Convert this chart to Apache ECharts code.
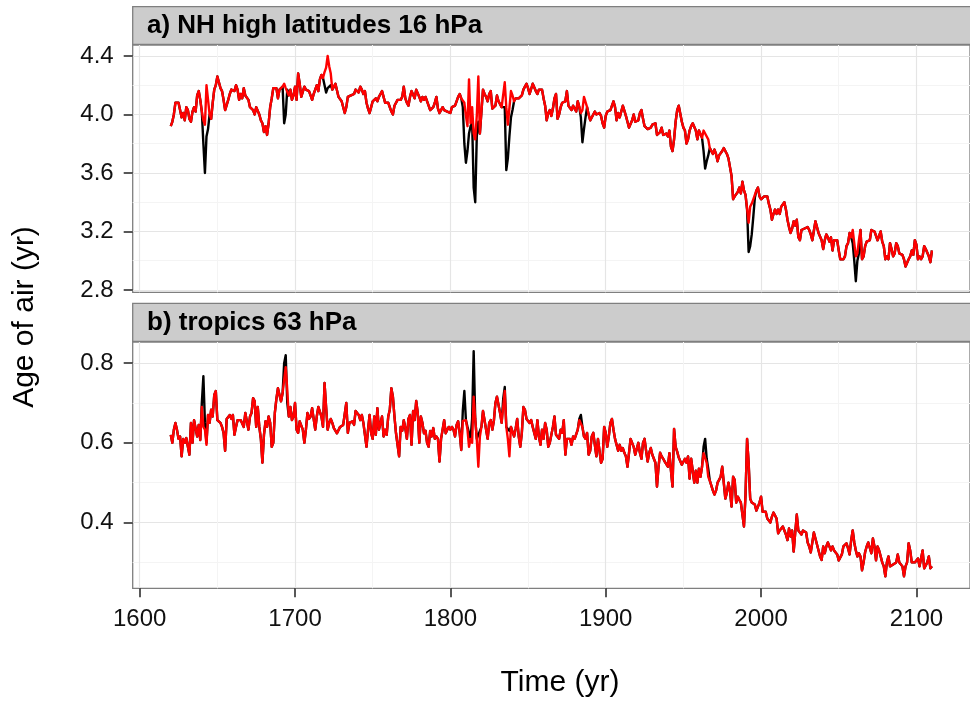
<!DOCTYPE html>
<html>
<head>
<meta charset="utf-8">
<script src="https://cdn.jsdelivr.net/npm/echarts@6/dist/echarts.min.js"></script>
<style>
  html, body { margin: 0; padding: 0; background: #fff; }
  #chart { width: 970px; height: 706px; }
</style>
</head>
<body>
<div id="chart"></div>
<script>
// ---- data: annual values 1620..2110 (one row = 10 years) ----
const START_YEAR = 1620;

const topBlack = [
  3.92,3.95,4.00,4.08,4.09,4.08,4.03,3.98,4.01,3.96,
  4.05,4.03,3.97,3.95,4.02,4.05,4.02,4.13,4.16,4.10,
  4.02,3.80,3.60,3.85,3.90,4.00,3.97,4.08,4.17,4.20,
  4.26,4.22,4.18,4.16,4.10,4.03,4.03,4.10,4.14,4.17,
  4.18,4.16,4.20,4.17,4.10,4.14,4.11,4.18,4.13,4.14,
  4.10,4.05,4.06,4.03,4.00,4.05,4.04,4.00,3.96,3.94,
  3.88,3.92,3.86,3.94,4.05,4.11,4.18,4.17,4.18,4.11,
  4.17,4.17,4.19,3.94,4.00,4.17,4.13,4.17,4.10,4.13,
  4.19,4.10,4.28,4.21,4.12,4.13,4.19,4.17,4.18,4.16,
  4.13,4.10,4.14,4.17,4.20,4.16,4.24,4.27,4.25,4.20,
  4.15,4.18,4.19,4.20,4.17,4.16,4.21,4.20,4.12,4.13,
  4.09,4.08,4.01,4.05,4.12,4.11,4.13,4.13,4.14,4.17,
  4.18,4.15,4.19,4.17,4.14,4.16,4.08,4.04,4.01,4.05,
  4.09,4.10,4.11,4.09,4.12,4.14,4.16,4.12,4.08,4.07,
  4.08,4.08,4.02,4.00,4.06,4.05,4.10,4.09,4.10,4.12,
  4.19,4.11,4.08,4.06,4.12,4.16,4.17,4.11,4.17,4.18,
  4.12,4.09,4.12,4.10,4.12,4.13,4.06,4.03,4.03,4.05,
  4.08,4.12,4.04,4.01,4.03,4.05,4.03,4.04,4.02,4.03,
  4.01,4.05,4.06,4.06,4.09,4.12,4.14,4.11,4.05,3.80,
  3.67,3.75,3.87,3.92,3.95,3.50,3.40,3.85,3.95,3.87,
  3.87,4.17,4.14,4.12,4.09,4.14,4.16,4.04,4.05,4.06,
  4.13,4.09,4.10,4.05,4.05,4.05,3.62,3.70,3.85,3.98,
  4.03,4.09,4.11,4.10,4.11,4.12,4.13,4.17,4.19,4.21,
  4.18,4.14,4.14,4.21,4.20,4.16,4.14,4.17,4.16,4.17,
  4.11,4.06,3.96,4.01,4.03,3.99,4.04,4.11,4.14,3.97,
  4.00,4.05,4.08,4.07,4.09,4.16,4.06,4.05,4.03,4.06,
  4.04,4.02,4.09,4.05,3.98,3.81,3.90,3.98,4.05,4.00,
  3.96,3.97,4.00,4.02,4.00,4.01,4.01,3.99,3.94,3.91,
  3.99,4.02,4.01,4.03,4.02,4.09,4.05,3.96,4.01,3.98,
  3.99,4.06,4.05,3.99,3.95,3.91,3.92,3.96,4.00,3.95,
  3.94,3.96,4.01,4.03,3.97,3.92,3.91,3.90,3.89,3.91,
  3.93,3.94,3.94,3.86,3.85,3.88,3.91,3.86,3.87,3.87,
  3.85,3.89,3.78,3.75,3.83,3.95,4.03,4.06,4.05,3.95,
  3.91,3.89,3.80,3.83,3.89,3.92,3.94,3.95,3.89,3.83,
  3.89,3.89,3.84,3.75,3.63,3.68,3.72,3.77,3.76,3.73,
  3.76,3.73,3.68,3.72,3.71,3.75,3.77,3.76,3.73,3.70,
  3.71,3.58,3.42,3.44,3.44,3.47,3.50,3.46,3.54,3.48,
  3.45,3.35,3.06,3.10,3.18,3.30,3.43,3.48,3.50,3.44,
  3.42,3.42,3.44,3.45,3.44,3.39,3.35,3.28,3.32,3.35,
  3.32,3.35,3.32,3.37,3.36,3.40,3.35,3.28,3.23,3.19,
  3.22,3.27,3.24,3.28,3.16,3.14,3.21,3.21,3.22,3.21,
  3.23,3.21,3.18,3.14,3.15,3.27,3.23,3.19,3.18,3.14,
  3.08,3.14,3.18,3.16,3.13,3.16,3.07,3.14,3.14,3.14,
  3.07,3.01,3.01,3.01,3.03,3.10,3.12,3.19,3.16,3.12,
  3.00,2.86,3.00,3.05,3.21,3.01,3.03,3.10,3.13,3.12,
  3.14,3.21,3.20,3.20,3.19,3.14,3.13,3.20,3.13,3.10,
  3.01,3.03,3.01,3.12,3.08,3.03,3.05,3.12,3.10,3.05,
  3.04,3.04,3.01,2.96,2.95,3.01,3.03,3.07,3.04,3.14,
  3.11,3.01,3.03,3.01,3.03,3.10,3.08,3.07,3.03,2.99,
  3.07
];

const topRed = [
  3.92,3.95,4.00,4.08,4.09,4.08,4.03,3.98,4.01,3.96,
  4.05,4.03,3.97,3.95,4.02,4.05,4.02,4.13,4.16,4.10,
  4.02,3.96,3.93,4.20,4.21,4.00,3.97,4.08,4.17,4.20,
  4.26,4.22,4.18,4.16,4.10,4.03,4.03,4.10,4.14,4.17,
  4.18,4.16,4.20,4.17,4.10,4.14,4.11,4.18,4.13,4.14,
  4.10,4.05,4.06,4.03,4.00,4.05,4.04,4.00,3.96,3.94,
  3.88,3.92,3.86,3.94,4.05,4.11,4.18,4.17,4.18,4.11,
  4.17,4.17,4.19,4.21,4.18,4.17,4.13,4.17,4.10,4.13,
  4.19,4.10,4.28,4.21,4.12,4.13,4.19,4.17,4.18,4.16,
  4.13,4.10,4.14,4.17,4.20,4.16,4.24,4.27,4.25,4.29,
  4.32,4.40,4.33,4.28,4.17,4.16,4.21,4.20,4.12,4.13,
  4.09,4.08,4.01,4.05,4.12,4.11,4.13,4.13,4.14,4.17,
  4.18,4.15,4.19,4.17,4.14,4.16,4.08,4.04,4.01,4.05,
  4.09,4.10,4.11,4.09,4.12,4.14,4.16,4.12,4.08,4.07,
  4.08,4.08,4.02,4.00,4.06,4.05,4.10,4.09,4.10,4.12,
  4.19,4.11,4.08,4.06,4.12,4.16,4.17,4.11,4.17,4.18,
  4.12,4.09,4.12,4.10,4.12,4.13,4.06,4.03,4.03,4.05,
  4.08,4.12,4.04,4.01,4.03,4.05,4.03,4.04,4.02,4.03,
  4.01,4.05,4.06,4.06,4.09,4.12,4.14,4.11,4.12,4.08,
  3.99,3.92,4.24,3.94,4.05,3.87,3.83,3.99,4.26,3.87,
  3.87,4.17,4.14,4.12,4.09,4.14,4.16,4.04,4.05,4.06,
  4.13,4.09,4.10,4.05,4.05,4.22,4.05,3.93,3.92,4.16,
  4.13,4.09,4.11,4.10,4.11,4.12,4.13,4.17,4.19,4.21,
  4.18,4.14,4.14,4.21,4.20,4.16,4.14,4.17,4.16,4.17,
  4.11,4.06,3.96,4.01,4.03,3.99,4.04,4.11,4.14,3.97,
  4.00,4.05,4.08,4.07,4.09,4.16,4.06,4.05,4.03,4.06,
  4.04,4.02,4.09,4.05,4.01,4.03,4.12,4.11,4.05,4.00,
  3.96,3.97,4.00,4.02,4.00,4.01,4.01,3.99,3.94,3.91,
  3.99,4.02,4.01,4.03,4.02,4.09,4.05,3.96,4.01,3.98,
  3.99,4.06,4.05,3.99,3.95,3.91,3.92,3.96,4.00,3.95,
  3.94,3.96,4.01,4.03,3.97,3.92,3.91,3.90,3.89,3.91,
  3.93,3.94,3.94,3.86,3.85,3.88,3.91,3.86,3.87,3.87,
  3.85,3.89,3.78,3.75,3.83,3.95,4.03,4.06,4.05,3.95,
  3.91,3.89,3.80,3.83,3.89,3.92,3.94,3.95,3.89,3.83,
  3.89,3.89,3.84,3.89,3.87,3.88,3.83,3.77,3.76,3.73,
  3.76,3.73,3.68,3.72,3.71,3.75,3.77,3.76,3.73,3.70,
  3.71,3.58,3.42,3.44,3.44,3.47,3.50,3.46,3.54,3.48,
  3.45,3.46,3.26,3.37,3.39,3.42,3.43,3.48,3.50,3.44,
  3.42,3.42,3.44,3.45,3.44,3.39,3.35,3.28,3.32,3.35,
  3.32,3.35,3.32,3.37,3.36,3.40,3.35,3.28,3.23,3.19,
  3.22,3.27,3.24,3.28,3.16,3.14,3.21,3.21,3.22,3.21,
  3.23,3.21,3.18,3.14,3.15,3.27,3.23,3.19,3.18,3.14,
  3.08,3.14,3.18,3.16,3.13,3.16,3.07,3.14,3.14,3.14,
  3.07,3.01,3.01,3.01,3.03,3.10,3.12,3.19,3.16,3.21,
  3.12,3.03,3.05,3.14,3.21,3.01,3.03,3.10,3.13,3.12,
  3.14,3.21,3.20,3.20,3.19,3.14,3.13,3.20,3.13,3.10,
  3.01,3.03,3.01,3.12,3.08,3.03,3.05,3.12,3.10,3.05,
  3.04,3.04,3.01,2.96,2.95,3.01,3.03,3.07,3.04,3.14,
  3.11,3.01,3.03,3.01,3.03,3.10,3.08,3.07,3.03,2.99,
  3.07
];

const botBlack = [
  0.62,0.60,0.633,0.65,0.633,0.61,0.616,0.566,0.61,0.60,
  0.612,0.61,0.57,0.65,0.60,0.657,0.66,0.616,0.645,0.607,
  0.70,0.767,0.65,0.60,0.67,0.65,0.683,0.666,0.72,0.73,
  0.657,0.66,0.65,0.64,0.625,0.58,0.66,0.657,0.67,0.66,
  0.67,0.62,0.64,0.657,0.66,0.657,0.655,0.64,0.675,0.675,
  0.633,0.666,0.675,0.712,0.705,0.64,0.69,0.64,0.61,0.55,
  0.62,0.654,0.64,0.666,0.65,0.59,0.60,0.675,0.71,0.737,
  0.72,0.704,0.725,0.80,0.82,0.70,0.666,0.69,0.657,0.666,
  0.70,0.633,0.625,0.654,0.65,0.633,0.60,0.633,0.675,0.66,
  0.666,0.687,0.69,0.633,0.666,0.69,0.69,0.666,0.64,0.75,
  0.69,0.633,0.65,0.66,0.65,0.637,0.633,0.624,0.62,0.64,
  0.64,0.645,0.64,0.70,0.625,0.65,0.645,0.654,0.645,0.68,
  0.683,0.67,0.657,0.67,0.65,0.62,0.59,0.633,0.67,0.624,
  0.61,0.666,0.62,0.687,0.633,0.633,0.666,0.616,0.633,0.62,
  0.666,0.683,0.737,0.716,0.666,0.624,0.62,0.566,0.64,0.63,
  0.657,0.637,0.61,0.66,0.67,0.595,0.68,0.657,0.705,0.675,
  0.60,0.666,0.65,0.624,0.63,0.60,0.59,0.63,0.616,0.637,
  0.61,0.616,0.61,0.553,0.61,0.633,0.657,0.624,0.633,0.64,
  0.633,0.64,0.633,0.616,0.645,0.654,0.625,0.582,0.68,0.73,
  0.657,0.64,0.64,0.61,0.66,0.83,0.66,0.61,0.62,0.616,
  0.64,0.68,0.675,0.633,0.61,0.65,0.657,0.633,0.655,0.70,
  0.716,0.695,0.675,0.65,0.71,0.74,0.64,0.64,0.63,0.64,
  0.64,0.616,0.635,0.66,0.616,0.59,0.625,0.69,0.683,0.66,
  0.657,0.65,0.657,0.64,0.625,0.61,0.657,0.616,0.595,0.633,
  0.61,0.65,0.633,0.59,0.60,0.62,0.64,0.666,0.62,0.624,
  0.61,0.633,0.625,0.657,0.57,0.61,0.605,0.61,0.595,0.616,
  0.61,0.61,0.633,0.66,0.67,0.64,0.616,0.61,0.625,0.57,
  0.58,0.616,0.625,0.595,0.566,0.61,0.58,0.55,0.56,0.64,
  0.625,0.59,0.616,0.65,0.66,0.633,0.61,0.61,0.58,0.595,
  0.58,0.587,0.575,0.566,0.54,0.575,0.61,0.61,0.59,0.57,
  0.575,0.60,0.575,0.56,0.60,0.61,0.58,0.553,0.575,0.587,
  0.57,0.575,0.55,0.49,0.54,0.575,0.566,0.56,0.553,0.555,
  0.54,0.574,0.53,0.49,0.635,0.59,0.578,0.563,0.56,0.545,
  0.545,0.56,0.55,0.566,0.51,0.56,0.53,0.50,0.53,0.50,
  0.535,0.515,0.54,0.59,0.61,0.56,0.535,0.505,0.50,0.48,
  0.47,0.48,0.50,0.507,0.515,0.54,0.54,0.46,0.475,0.50,
  0.48,0.44,0.515,0.507,0.45,0.465,0.457,0.45,0.42,0.39,
  0.47,0.61,0.55,0.46,0.45,0.447,0.445,0.43,0.43,0.45,
  0.465,0.427,0.425,0.427,0.41,0.407,0.40,0.415,0.425,0.427,
  0.41,0.373,0.38,0.385,0.39,0.39,0.37,0.356,0.385,0.365,
  0.38,0.327,0.375,0.42,0.38,0.38,0.37,0.38,0.383,0.375,
  0.35,0.34,0.325,0.32,0.375,0.377,0.345,0.33,0.315,0.306,
  0.34,0.323,0.34,0.35,0.345,0.33,0.34,0.33,0.325,0.32,
  0.305,0.302,0.32,0.34,0.34,0.348,0.335,0.32,0.355,0.38,
  0.35,0.33,0.315,0.323,0.315,0.28,0.30,0.326,0.34,0.35,
  0.35,0.323,0.36,0.34,0.305,0.34,0.33,0.315,0.30,0.29,
  0.265,0.30,0.315,0.29,0.295,0.295,0.295,0.30,0.32,0.30,
  0.305,0.29,0.265,0.29,0.30,0.348,0.33,0.30,0.30,0.30,
  0.30,0.31,0.29,0.31,0.33,0.285,0.29,0.30,0.315,0.285,
  0.29
];

const botRed = [
  0.62,0.60,0.633,0.65,0.633,0.61,0.616,0.566,0.61,0.60,
  0.612,0.61,0.57,0.65,0.60,0.657,0.66,0.616,0.645,0.607,
  0.69,0.64,0.633,0.595,0.67,0.65,0.683,0.666,0.72,0.73,
  0.657,0.66,0.65,0.64,0.625,0.58,0.66,0.657,0.67,0.66,
  0.67,0.62,0.64,0.657,0.66,0.657,0.655,0.64,0.675,0.675,
  0.633,0.666,0.675,0.712,0.705,0.64,0.69,0.64,0.61,0.55,
  0.62,0.654,0.64,0.666,0.65,0.59,0.60,0.675,0.71,0.737,
  0.72,0.704,0.725,0.758,0.79,0.733,0.666,0.69,0.657,0.666,
  0.70,0.633,0.625,0.654,0.65,0.633,0.60,0.633,0.675,0.66,
  0.666,0.687,0.69,0.633,0.666,0.69,0.69,0.666,0.64,0.75,
  0.69,0.633,0.65,0.66,0.65,0.637,0.633,0.624,0.62,0.64,
  0.64,0.645,0.64,0.70,0.625,0.65,0.645,0.654,0.645,0.68,
  0.683,0.67,0.657,0.67,0.65,0.62,0.59,0.633,0.67,0.624,
  0.61,0.666,0.62,0.687,0.633,0.633,0.666,0.616,0.633,0.62,
  0.666,0.683,0.737,0.716,0.666,0.624,0.62,0.566,0.64,0.63,
  0.657,0.637,0.61,0.66,0.67,0.595,0.68,0.657,0.705,0.675,
  0.60,0.666,0.65,0.624,0.63,0.60,0.59,0.63,0.616,0.637,
  0.61,0.616,0.61,0.553,0.61,0.633,0.657,0.624,0.633,0.64,
  0.633,0.64,0.633,0.616,0.645,0.654,0.625,0.582,0.655,0.65,
  0.657,0.633,0.59,0.61,0.60,0.716,0.66,0.61,0.54,0.616,
  0.64,0.68,0.675,0.633,0.61,0.65,0.657,0.633,0.655,0.70,
  0.716,0.695,0.675,0.65,0.69,0.73,0.64,0.61,0.566,0.64,
  0.64,0.616,0.635,0.66,0.616,0.59,0.625,0.69,0.683,0.66,
  0.657,0.65,0.657,0.64,0.625,0.61,0.657,0.616,0.595,0.633,
  0.61,0.65,0.633,0.59,0.60,0.62,0.64,0.666,0.62,0.624,
  0.61,0.633,0.625,0.657,0.57,0.61,0.605,0.61,0.595,0.616,
  0.61,0.61,0.633,0.657,0.657,0.64,0.616,0.61,0.625,0.57,
  0.58,0.616,0.625,0.595,0.566,0.61,0.58,0.55,0.56,0.64,
  0.625,0.59,0.616,0.65,0.66,0.633,0.61,0.61,0.58,0.595,
  0.58,0.587,0.575,0.566,0.54,0.575,0.61,0.61,0.59,0.57,
  0.575,0.60,0.575,0.56,0.60,0.61,0.58,0.553,0.575,0.587,
  0.57,0.575,0.55,0.49,0.54,0.575,0.566,0.56,0.553,0.555,
  0.54,0.574,0.53,0.49,0.635,0.59,0.578,0.563,0.56,0.545,
  0.545,0.56,0.55,0.566,0.51,0.56,0.53,0.50,0.53,0.50,
  0.535,0.515,0.54,0.574,0.575,0.55,0.515,0.505,0.50,0.48,
  0.47,0.48,0.50,0.507,0.515,0.54,0.54,0.46,0.475,0.50,
  0.48,0.44,0.515,0.507,0.45,0.465,0.457,0.45,0.42,0.39,
  0.47,0.61,0.55,0.46,0.45,0.447,0.445,0.43,0.43,0.45,
  0.465,0.427,0.425,0.427,0.41,0.407,0.40,0.415,0.425,0.427,
  0.41,0.373,0.38,0.385,0.39,0.39,0.37,0.356,0.385,0.365,
  0.38,0.327,0.375,0.42,0.38,0.38,0.37,0.38,0.383,0.375,
  0.35,0.34,0.325,0.32,0.375,0.377,0.345,0.33,0.315,0.306,
  0.34,0.323,0.34,0.35,0.345,0.33,0.34,0.33,0.325,0.32,
  0.305,0.302,0.32,0.34,0.34,0.348,0.335,0.32,0.355,0.38,
  0.35,0.33,0.315,0.323,0.315,0.28,0.30,0.326,0.34,0.35,
  0.35,0.323,0.36,0.34,0.305,0.34,0.33,0.315,0.30,0.29,
  0.265,0.30,0.315,0.29,0.295,0.295,0.295,0.30,0.32,0.30,
  0.305,0.29,0.265,0.29,0.30,0.348,0.33,0.30,0.30,0.30,
  0.30,0.31,0.29,0.31,0.33,0.285,0.29,0.30,0.315,0.285,
  0.29
];

const years = topRed.map((_, i) => START_YEAR + i);

const xMajorTicks = [1600, 1700, 1800, 1900, 2000, 2100];
const xMinorTicks = [1650, 1750, 1850, 1950, 2050];
const topMajorTicks = [2.8, 3.2, 3.6, 4.0, 4.4];
const topMinorTicks = [3.0, 3.4, 3.8, 4.2];
const botMajorTicks = [0.4, 0.6, 0.8];
const botMinorTicks = [0.3, 0.5, 0.7];

const panelTitles = ['a) NH high latitudes 16 hPa', 'b) tropics 63 hPa'];
const xTitle = 'Time (yr)';
const yTitle = 'Age of air (yr)';

// ---- layout ----
const FONT = "'Liberation Sans', Arial, Helvetica, sans-serif";
const GL = 132.7, GW = 848.3;
const X_MIN = 1595.5, X_MAX = 2134.5;
const panels = [
  { top: 45, height: 247.3, min: 2.784, max: 4.475, major: topMajorTicks, minor: topMinorTicks, strip: 6.7 },
  { top: 342, height: 246.3, min: 0.235, max: 0.853, major: botMajorTicks, minor: botMinorTicks, strip: 303.3 }
];
const MAJOR = '#E5E5E5', MINOR = '#F4F4F4';

const grids = [], xAxes = [], yAxes = [], series = [];
panels.forEach((p, gi) => {
  grids.push({ left: GL, top: p.top, width: GW, height: p.height, show: true,
    borderColor: '#7F7F7F', borderWidth: 1.3, backgroundColor: 'transparent' });
  xAxes.push({ gridIndex: gi, type: 'value', min: X_MIN, max: X_MAX, position: 'bottom',
    axisLine: { show: false }, axisTick: { show: false, customValues: xMinorTicks },
    axisLabel: { show: false, customValues: xMinorTicks },
    splitLine: { show: true, lineStyle: { color: MINOR, width: 1 } } });
  yAxes.push({ gridIndex: gi, type: 'value', min: p.min, max: p.max, position: 'right',
    axisLine: { show: false }, axisTick: { show: false, customValues: p.minor },
    axisLabel: { show: false, customValues: p.minor },
    splitLine: { show: true, lineStyle: { color: MINOR, width: 1 } } });
  const isBottom = gi === panels.length - 1;
  xAxes.push({ gridIndex: gi, type: 'value', min: X_MIN, max: X_MAX, position: 'bottom',
    axisLine: { show: false },
    axisTick: { show: isBottom, customValues: xMajorTicks, length: 9, lineStyle: { color: '#222', width: 1.5 } },
    axisLabel: { show: isBottom, customValues: xMajorTicks, fontSize: 24, color: '#111', fontFamily: FONT, margin: 19,
      formatter: v => String(Math.round(v)) },
    splitLine: { show: true, lineStyle: { color: MAJOR, width: 1.2 } } });
  yAxes.push({ gridIndex: gi, type: 'value', min: p.min, max: p.max, position: 'left',
    axisLine: { show: false },
    axisTick: { show: true, customValues: p.major, length: 9, lineStyle: { color: '#222', width: 1.5 } },
    axisLabel: { show: true, customValues: p.major, fontSize: 24, color: '#111', fontFamily: FONT, margin: 19,
      formatter: v => v.toFixed(1) },
    splitLine: { show: true, lineStyle: { color: MAJOR, width: 1.2 } } });
});

const pair = (arr) => years.map((y, i) => [y, arr[i]]);
const lineSeries = (name, gi, arr, color, z) => ({
  name, type: 'line', xAxisIndex: gi * 2 + 1, yAxisIndex: gi * 2 + 1,
  data: pair(arr), showSymbol: false, symbol: 'none', smooth: false,
  lineStyle: { color, width: 2.4, join: 'round' }, z, silent: true
});
series.push(lineSeries('black a', 0, topBlack, '#000000', 3));
series.push(lineSeries('red a', 0, topRed, '#FF0000', 4));
series.push(lineSeries('black b', 1, botBlack, '#000000', 3));
series.push(lineSeries('red b', 1, botRed, '#FF0000', 4));

const graphics = [];
panels.forEach((p, gi) => {
  graphics.push({ type: 'rect', shape: { x: GL, y: p.strip, width: GW + 10, height: p.top - p.strip - 0.6 },
    style: { fill: '#CCCCCC', stroke: '#7F7F7F', lineWidth: 1.3 }, z: 10 });
  graphics.push({ type: 'text', x: 147, y: p.strip + 19.5,
    style: { text: panelTitles[gi], font: 'bold 26px ' + FONT, fill: '#000', align: 'left', verticalAlign: 'middle' }, z: 11 });
});
graphics.push({ type: 'text', x: 560, y: 683,
  style: { text: xTitle, font: '30px ' + FONT, fill: '#000', align: 'center', verticalAlign: 'middle' } });
graphics.push({ type: 'text', x: 25, y: 317, rotation: Math.PI / 2,
  style: { text: yTitle, font: '30px ' + FONT, fill: '#000', align: 'center', verticalAlign: 'middle' } });

const chart = echarts.init(document.getElementById('chart'), null, { renderer: 'canvas' });
chart.setOption({
  animation: false,
  backgroundColor: '#FFFFFF',
  grid: grids, xAxis: xAxes, yAxis: yAxes, series,
  graphic: { elements: graphics }
});
</script>
</body>
</html>
